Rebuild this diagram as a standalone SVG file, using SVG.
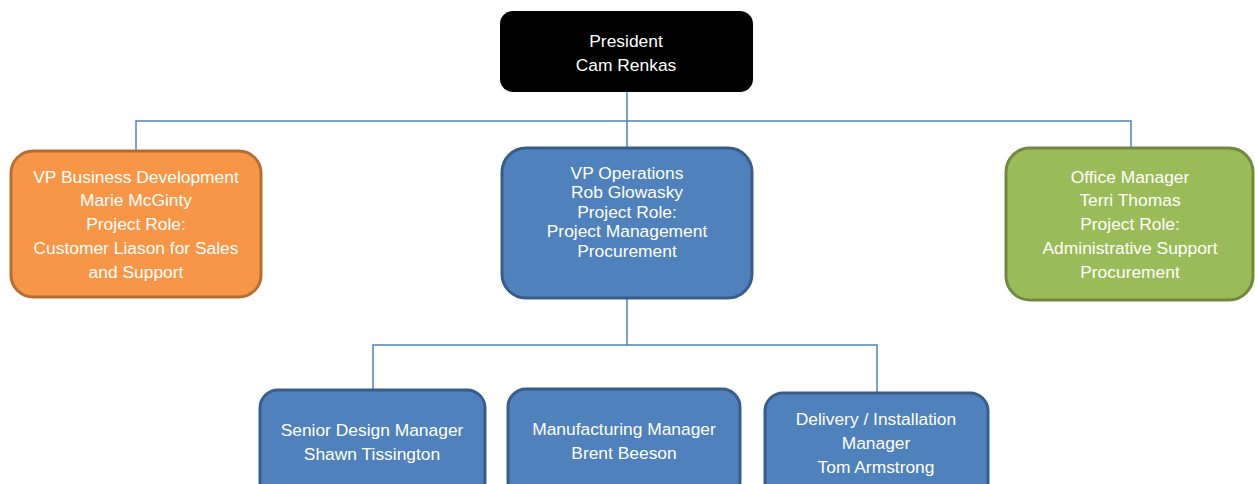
<svg xmlns="http://www.w3.org/2000/svg" width="1255" height="484" viewBox="0 0 1255 484">
<style>
text{font-family:"Liberation Sans",Arial,sans-serif;font-size:17.4px;fill:#fff;text-anchor:middle}
.c{fill:none;stroke:#4F81BD;stroke-width:1.5}
.blue{fill:#4F81BD;stroke:#385D8A;stroke-width:3}
.org{fill:#F79646;stroke:#B66D31;stroke-width:3}
.grn{fill:#9BBB59;stroke:#71893F;stroke-width:3}
</style>
<rect width="1255" height="484" fill="#fff"/>
<g id="connectors">
<path class="c" d="M627 92V147M136 150V121H1131V147"/>
<path class="c" d="M627 298V345M373 390V345H877V392"/>
</g>
<g id="president">
<rect x="500" y="11" width="253" height="81" rx="13" fill="#000"/>
<text x="626" y="47">President</text>
<text x="626" y="71">Cam Renkas</text>
</g>
<g id="vp-bd">
<rect class="org" x="11" y="151" width="250" height="146" rx="22"/>
<text x="136" y="183">VP Business Development</text>
<text x="136" y="206">Marie McGinty</text>
<text x="136" y="230">Project Role:</text>
<text x="136" y="254">Customer Liason for Sales</text>
<text x="136" y="278">and Support</text>
</g>
<g id="vp-ops">
<rect class="blue" x="502" y="148" width="250" height="150" rx="24"/>
<text x="627" y="179">VP Operations</text>
<text x="627" y="198">Rob Glowasky</text>
<text x="627" y="218">Project Role:</text>
<text x="627" y="237">Project Management</text>
<text x="627" y="257">Procurement</text>
</g>
<g id="office">
<rect class="grn" x="1006" y="148" width="247" height="152" rx="24"/>
<text x="1130" y="183">Office Manager</text>
<text x="1130" y="206">Terri Thomas</text>
<text x="1130" y="230">Project Role:</text>
<text x="1130" y="254">Administrative Support</text>
<text x="1130" y="278">Procurement</text>
</g>
<g id="design">
<rect class="blue" x="260" y="390" width="225" height="110" rx="18"/>
<text x="372" y="436">Senior Design Manager</text>
<text x="372" y="460">Shawn Tissington</text>
</g>
<g id="mfg">
<rect class="blue" x="508" y="389" width="232" height="110" rx="18"/>
<text x="624" y="435">Manufacturing Manager</text>
<text x="624" y="459">Brent Beeson</text>
</g>
<g id="delivery">
<rect class="blue" x="765" y="393" width="223" height="110" rx="18"/>
<text x="876" y="425">Delivery / Installation</text>
<text x="876" y="449">Manager</text>
<text x="876" y="473">Tom Armstrong</text>
</g>
</svg>
